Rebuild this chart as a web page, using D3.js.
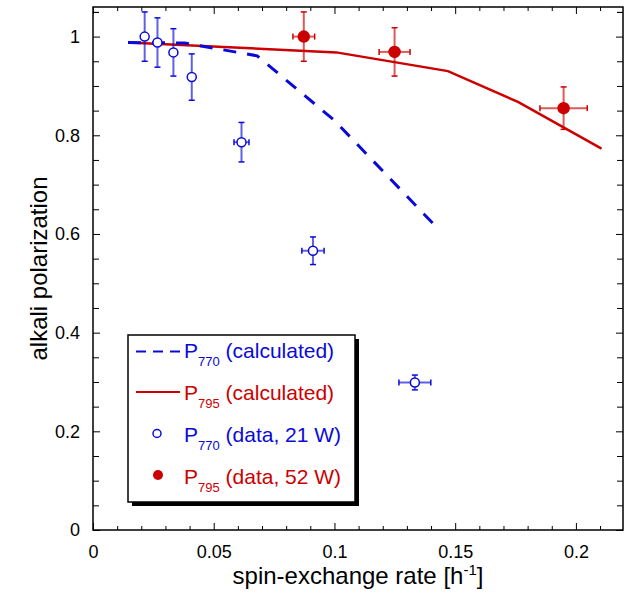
<!DOCTYPE html>
<html>
<head>
<meta charset="utf-8">
<script src="https://cdn.jsdelivr.net/npm/d3@7"></script>
<style>
  body { margin: 0; background: #fff; }
  text { font-family: "Liberation Sans", Arial, Helvetica, sans-serif; }
</style>
</head>
<body>
<svg id="chart"></svg>
<script>
// ---- data
// P770 measured (open blue circles, 21 W)
var rateBlue    = [0.0214, 0.0267, 0.0333, 0.0409, 0.0615, 0.0911, 0.1333];
var polBlue     = [1.000, 0.988, 0.968, 0.918, 0.786, 0.566, 0.299];
var polErrBlue  = [0.050, 0.050, 0.048, 0.047, 0.040, 0.028, 0.015];
var rateErrBlue = [0, 0, 0, 0, 0.0031, 0.0046, 0.0066];

// P795 measured (filled red circles, 52 W)
var rateRed    = [0.0873, 0.1249, 0.1949];
var polRed     = [1.000, 0.969, 0.855];
var polErrRed  = [0.050, 0.049, 0.043];
var rateErrRed = [0.0045, 0.0064, 0.0098];

// calculated curves
var rateCalcBlue = [0.0145, 0.038, 0.068, 0.100, 0.143];
var polCalcBlue  = [0.988, 0.987, 0.961, 0.830, 0.610];
var rateCalcRed  = [0.0145, 0.1008, 0.147, 0.176, 0.2106];
var polCalcRed   = [0.988, 0.968, 0.930, 0.8675, 0.773];

// ticks
var xMajorTicks = [0, 0.05, 0.1, 0.15, 0.2];
var yMajorTicks = [0, 0.2, 0.4, 0.6, 0.8, 1];

var legendLabels = [
  {main: "P", sub: "770", rest: " (calculated)"},
  {main: "P", sub: "795", rest: " (calculated)"},
  {main: "P", sub: "770", rest: " (data, 21 W)"},
  {main: "P", sub: "795", rest: " (data, 52 W)"}
];

var blue = "#0a0ad8", red = "#cc0000";

// Set the dimensions and margins of the graph
var margin = {top: 7, right: 8, bottom: 75, left: 93};
var width = 631 - margin.left - margin.right,
    height = 605 - margin.top - margin.bottom;

var svg = d3.select("#chart")
  .attr("width", 631)
  .attr("height", 605);

var plot = svg.append("g")
  .attr("transform", "translate(" + margin.left + "," + margin.top + ")");

// scales
var x = d3.scaleLinear().domain([0, 0.2195]).range([0, width]);
var y = d3.scaleLinear().domain([0, 1.06]).range([height, 0]);

var xMinor = d3.range(0, 0.2195, 0.01).filter(function(v) { return Math.abs(v / 0.05 - Math.round(v / 0.05)) > 1e-6; });
var yMinor = d3.range(0, 1.06, 0.05).filter(function(v) { return Math.abs(v / 0.2 - Math.round(v / 0.2)) > 1e-6; });

// ---- axes, ticks point inward on all four sides
function styleAxis(g) {
  g.select(".domain").remove();
  g.attr("font-size", 18).attr("font-family", null);
  g.selectAll("line").attr("stroke", "#000").attr("stroke-width", 1);
  g.selectAll("text").attr("fill", "#000");
}

plot.append("g")
  .attr("transform", "translate(0," + height + ")")
  .call(d3.axisBottom(x).tickValues(xMajorTicks).tickSize(-7).tickPadding(15).tickFormat(d3.format("")))
  .call(styleAxis);
plot.append("g")
  .attr("transform", "translate(0," + height + ")")
  .call(d3.axisBottom(x).tickValues(xMinor).tickSize(-4).tickFormat(""))
  .call(styleAxis);
plot.append("g")
  .call(d3.axisTop(x).tickValues(xMajorTicks).tickSize(-7).tickFormat(""))
  .call(styleAxis);
plot.append("g")
  .call(d3.axisTop(x).tickValues(xMinor).tickSize(-4).tickFormat(""))
  .call(styleAxis);

plot.append("g")
  .call(d3.axisLeft(y).tickValues(yMajorTicks).tickSize(-7).tickPadding(13).tickFormat(d3.format("")))
  .call(styleAxis);
plot.append("g")
  .call(d3.axisLeft(y).tickValues(yMinor.concat([1.05])).tickSize(-6).tickFormat(""))
  .call(styleAxis);
plot.append("g")
  .attr("transform", "translate(" + width + ",0)")
  .call(d3.axisRight(y).tickValues(yMajorTicks).tickSize(-7).tickFormat(""))
  .call(styleAxis);
plot.append("g")
  .attr("transform", "translate(" + width + ",0)")
  .call(d3.axisRight(y).tickValues(yMinor.concat([1.05])).tickSize(-6).tickFormat(""))
  .call(styleAxis);

// frame
plot.append("rect")
  .attr("width", width)
  .attr("height", height)
  .attr("fill", "none")
  .attr("stroke", "#000")
  .attr("stroke-width", 1.5);

// axis titles
svg.append("text")
  .attr("x", margin.left + width / 2)
  .attr("y", 584)
  .attr("text-anchor", "middle")
  .attr("font-size", 24)
  .text("spin-exchange rate [h")
  .append("tspan").attr("dy", -9).attr("font-size", 15).text("-1")
  .select(function() { return this.parentNode; })
  .append("tspan").attr("dy", 9).text("]");

svg.append("text")
  .attr("transform", "translate(47," + (margin.top + height / 2) + ") rotate(-90)")
  .attr("text-anchor", "middle")
  .attr("font-size", 24)
  .text("alkali polarization");

// ---- calculated curves
var line = d3.line()
  .x(function(d) { return x(d[0]); })
  .y(function(d) { return y(d[1]); });

plot.append("path")
  .datum(d3.zip(rateCalcRed, polCalcRed))
  .attr("d", line)
  .attr("fill", "none")
  .attr("stroke", red)
  .attr("stroke-width", 2.5);

plot.append("path")
  .datum(d3.zip(rateCalcBlue, polCalcBlue))
  .attr("d", line)
  .attr("fill", "none")
  .attr("stroke", blue)
  .attr("stroke-width", 3)
  .attr("stroke-dasharray", "13,11");

// ---- measured points with error bars
function drawPoints(rates, pols, polErr, rateErr, color, filled, r) {
  var pts = d3.zip(rates, pols, polErr, rateErr);
  var g = plot.append("g");
  var bars = g.selectAll("g.err").data(pts).enter().append("g").attr("class", "err")
    .attr("stroke", color);

  // vertical
  bars.append("line")
    .attr("x1", function(d) { return x(d[0]); })
    .attr("x2", function(d) { return x(d[0]); })
    .attr("y1", function(d) { return y(d[1] + d[2]); })
    .attr("y2", function(d) { return y(d[1] - d[2]); })
    .attr("stroke-width", 2).attr("stroke-opacity", 0.65);
  [1, -1].forEach(function(s) {
    bars.append("line")
      .attr("x1", function(d) { return x(d[0]) - 3; })
      .attr("x2", function(d) { return x(d[0]) + 3; })
      .attr("y1", function(d) { return y(d[1] + s * d[2]); })
      .attr("y2", function(d) { return y(d[1] + s * d[2]); })
      .attr("stroke-width", 1.5);
  });

  // horizontal
  var hb = bars.filter(function(d) { return d[3] > 0; });
  hb.append("line")
    .attr("x1", function(d) { return x(d[0] - d[3]); })
    .attr("x2", function(d) { return x(d[0] + d[3]); })
    .attr("y1", function(d) { return y(d[1]); })
    .attr("y2", function(d) { return y(d[1]); })
    .attr("stroke-width", 2).attr("stroke-opacity", 0.65);
  [1, -1].forEach(function(s) {
    hb.append("line")
      .attr("x1", function(d) { return x(d[0] + s * d[3]); })
      .attr("x2", function(d) { return x(d[0] + s * d[3]); })
      .attr("y1", function(d) { return y(d[1]) - 3; })
      .attr("y2", function(d) { return y(d[1]) + 3; })
      .attr("stroke-width", 1.5);
  });

  g.selectAll("circle").data(pts).enter().append("circle")
    .attr("cx", function(d) { return x(d[0]); })
    .attr("cy", function(d) { return y(d[1]); })
    .attr("r", r)
    .attr("fill", filled ? color : "#fff")
    .attr("stroke", color)
    .attr("stroke-width", 1.5);
}

drawPoints(rateBlue, polBlue, polErrBlue, rateErrBlue, blue, false, 4.5);
drawPoints(rateRed, polRed, polErrRed, rateErrRed, red, true, 5.5);

// ---- legend box with drop shadow
var legend = svg.append("g").attr("transform", "translate(128,335)");
legend.append("rect")
  .attr("x", 4).attr("y", 4)
  .attr("width", 227).attr("height", 167)
  .attr("fill", "#000");
legend.append("rect")
  .attr("width", 227).attr("height", 167)
  .attr("fill", "#fff")
  .attr("stroke", "#000")
  .attr("stroke-width", 1.5);

var legendColors = [blue, red, blue, red];
var rows = legend.selectAll("g.row").data(legendLabels).enter().append("g")
  .attr("class", "row")
  .attr("transform", function(d, i) { return "translate(0," + (23 + i * 42) + ")"; });

rows.append("text")
  .attr("x", 56)
  .attr("y", 0)
  .attr("font-size", 21)
  .attr("fill", function(d, i) { return legendColors[i]; })
  .each(function(d) {
    var t = d3.select(this);
    t.append("tspan").text(d.main);
    t.append("tspan").attr("font-size", 13).attr("dy", 8).text(d.sub);
    t.append("tspan").attr("dy", -8).text(d.rest);
  });

// legend symbols
legend.append("line")
  .attr("x1", 8).attr("x2", 52).attr("y1", 16.5).attr("y2", 16.5)
  .attr("stroke", blue).attr("stroke-width", 2).attr("stroke-dasharray", "10,7");
legend.append("line")
  .attr("x1", 8).attr("x2", 52).attr("y1", 57).attr("y2", 57)
  .attr("stroke", red).attr("stroke-width", 2);
legend.append("circle")
  .attr("cx", 29).attr("cy", 98.5).attr("r", 4)
  .attr("fill", "#fff").attr("stroke", blue).attr("stroke-width", 1.5);
legend.append("circle")
  .attr("cx", 30).attr("cy", 140).attr("r", 5)
  .attr("fill", red);
</script>
</body>
</html>
